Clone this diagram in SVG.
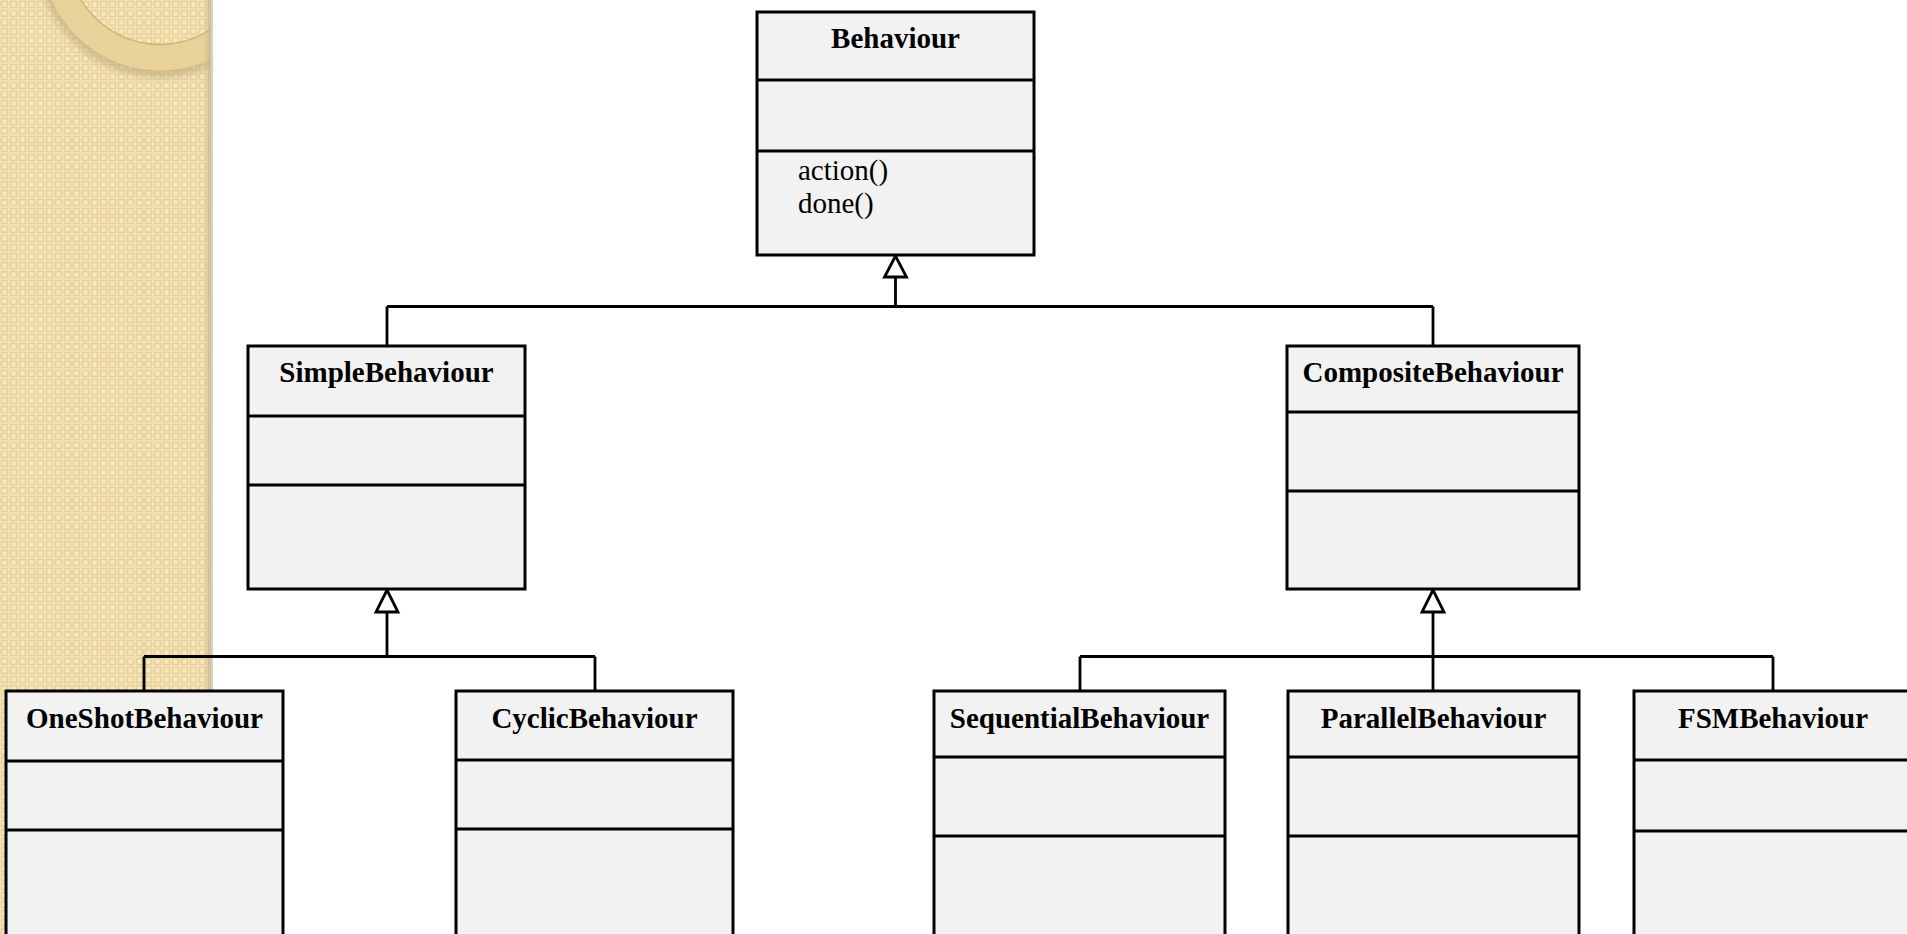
<svg xmlns="http://www.w3.org/2000/svg" width="1907" height="934" viewBox="0 0 1907 934">
<style>
.box{fill:#f2f2f2;stroke:#000;stroke-width:3}
.div{stroke:#000;stroke-width:3;fill:none}
.title{font-family:"Liberation Serif","Times New Roman",serif;font-weight:bold;font-size:29px;fill:#000;text-anchor:middle}
.op{font-family:"Liberation Serif","Times New Roman",serif;font-size:29px;fill:#000}
.conn{stroke:#000;stroke-width:2.8;fill:none}
.head{fill:#fff;stroke:#000;stroke-width:2.8}
</style>
<defs>
<pattern id="chk" width="9" height="9" patternUnits="userSpaceOnUse">
<rect width="9" height="9" fill="#f8e6b9"/>
<rect x="1.5" y="1.5" width="6" height="6" fill="none" stroke="#e6d09c" stroke-width="1.6"/>
<rect x="3.5" y="3.5" width="2" height="2" fill="#fbecc5"/>
</pattern>
<clipPath id="panel"><rect x="0" y="0" width="210" height="934"/></clipPath>
<filter id="blur" x="-20%" y="-20%" width="140%" height="140%"><feGaussianBlur stdDeviation="3"/></filter>
<linearGradient id="edge" x1="0" x2="1" y1="0" y2="0">
<stop offset="0" stop-color="#d8c48e" stop-opacity="0"/>
<stop offset="1" stop-color="#bfae84" stop-opacity="0.8"/>
</linearGradient>
</defs>
<rect width="1907" height="934" fill="#fff"/>
<g id="background">
<rect x="0" y="0" width="210" height="934" fill="url(#chk)"/>
<g clip-path="url(#panel)">
<circle cx="160" cy="-45" r="113" fill="none" stroke="#b3a073" stroke-width="20" opacity="0.5" filter="url(#blur)"/>
<circle cx="160" cy="-48" r="105.5" fill="none" stroke="#e8d29a" stroke-width="26"/>
<circle cx="160" cy="-48" r="92.5" fill="none" stroke="#c4ab76" stroke-width="1.2"/>
</g>
<rect x="203" y="0" width="8" height="934" fill="url(#edge)"/>
<rect x="211" y="0" width="2" height="934" fill="#d4d0c8"/>
</g>
<g id="connectors">
<path class="conn" d="M895.5,277 V306.5 M387,306.5 H1433 M387,306.5 V346 M1433,306.5 V346"/>
<polygon class="head" points="895.5,256 884.5,277 906.5,277"/>
<path class="conn" d="M387,612 V656.5 M144,656.5 H595 M144,656.5 V691 M595,656.5 V691"/>
<polygon class="head" points="387,590 376,612 398,612"/>
<path class="conn" d="M1433,612 V691 M1080,656.5 H1773 M1080,656.5 V691 M1773,656.5 V691"/>
<polygon class="head" points="1433,590 1422,612 1444,612"/>
</g>
<g id="Behaviour">
<rect class="box" x="757" y="12" width="277" height="243"/>
<path class="div" d="M757,80 H1034 M757,151 H1034"/>
<text class="title" x="895.5" y="48">Behaviour</text>
<text class="op" x="798" y="180">action()</text>
<text class="op" x="798" y="213">done()</text>
</g>
<g id="SimpleBehaviour">
<rect class="box" x="248" y="346" width="277" height="243"/>
<path class="div" d="M248,416 H525 M248,485 H525"/>
<text class="title" x="386.5" y="382">SimpleBehaviour</text>
</g>
<g id="CompositeBehaviour">
<rect class="box" x="1287" y="346" width="292" height="243"/>
<path class="div" d="M1287,412 H1579 M1287,491 H1579"/>
<text class="title" x="1433" y="382">CompositeBehaviour</text>
</g>
<g id="OneShotBehaviour">
<rect class="box" x="6" y="691" width="277" height="260"/>
<path class="div" d="M6,761 H283 M6,830 H283"/>
<text class="title" x="144.5" y="728">OneShotBehaviour</text>
</g>
<g id="CyclicBehaviour">
<rect class="box" x="456" y="691" width="277" height="260"/>
<path class="div" d="M456,760 H733 M456,829 H733"/>
<text class="title" x="594.5" y="728">CyclicBehaviour</text>
</g>
<g id="SequentialBehaviour">
<rect class="box" x="934" y="691" width="291" height="260"/>
<path class="div" d="M934,757 H1225 M934,836 H1225"/>
<text class="title" x="1079.5" y="728">SequentialBehaviour</text>
</g>
<g id="ParallelBehaviour">
<rect class="box" x="1288" y="691" width="291" height="260"/>
<path class="div" d="M1288,757 H1579 M1288,836 H1579"/>
<text class="title" x="1433.5" y="728">ParallelBehaviour</text>
</g>
<g id="FSMBehaviour">
<rect class="box" x="1634" y="691" width="278" height="260"/>
<path class="div" d="M1634,760 H1912 M1634,831 H1912"/>
<text class="title" x="1773" y="728">FSMBehaviour</text>
</g>
</svg>
